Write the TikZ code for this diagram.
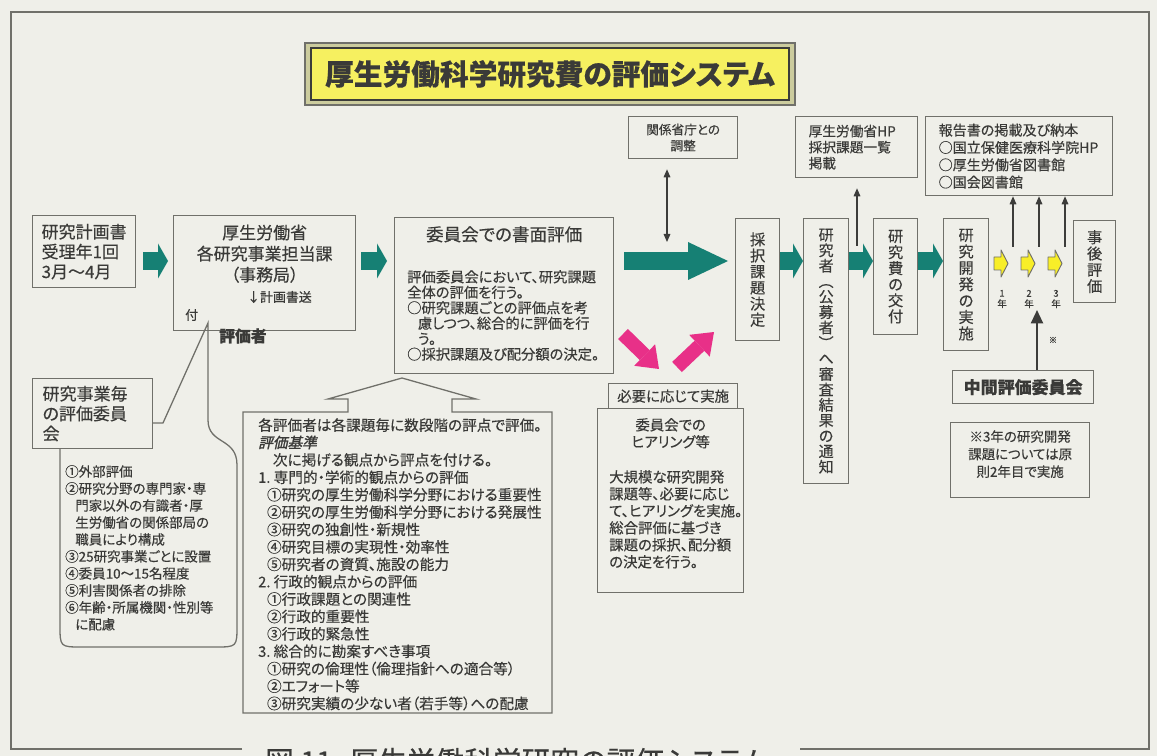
\documentclass[tikz,border=0pt]{standalone}
\usepackage{fontspec}
\setmainfont{Noto Sans CJK JP}[RawFeature=+palt, FakeBold=0.35]
\newfontface\kijunface{Noto Sans CJK JP}[RawFeature=+palt, FakeSlant=0.22, FakeBold=1.6]
\usetikzlibrary{positioning,arrows.meta}

\definecolor{bgc}{RGB}{239,239,233}
\definecolor{linec}{RGB}{112,112,106}
\definecolor{darkc}{RGB}{60,60,58}
\definecolor{txtc}{RGB}{58,58,56}
\definecolor{tealc}{RGB}{22,128,116}
\definecolor{pinkc}{RGB}{232,48,136}
\definecolor{yelc}{RGB}{248,238,40}
\definecolor{yelt}{RGB}{246,240,96}
\definecolor{titlefr}{RGB}{204,204,158}

\newcommand\fs[2]{\fontsize{#1pt}{#2pt}\selectfont}
\newcommand\ind{\hspace*{0.75em}}

\tikzset{
  box/.style={draw=linec, line width=1.1pt, inner sep=0pt, anchor=north west},
  vbox/.style={box, align=center, font=\fs{12.8}{13.2}},
  flow/.style={draw=tealc, line width=5.4mm, -{Triangle[length=3mm, width=10.5mm, line width=0pt]}},
  bigflow/.style={draw=tealc, line width=5.4mm, -{Triangle[length=12mm, width=11.4mm, line width=0pt]}},
  pinkflow/.style={draw=pinkc, line width=4.2mm, -{Triangle[length=6mm, width=9mm, line width=0pt]}},
  upline/.style={draw=darkc, line width=0.9pt, -{Triangle[length=2.4mm, width=2mm]}},
  twoway/.style={draw=darkc, line width=0.9pt, {Triangle[length=2.4mm, width=2mm]}-{Triangle[length=2.4mm, width=2mm]}},
  yelarrow/.style={draw=linec, fill=yelc, line width=0.8pt, line join=round},
  textblock/.style={inner sep=0pt, align=left, anchor=north west}
}

\begin{document}
\begin{tikzpicture}[x=0.3mm, y=-0.3mm, every node/.style={text=txtc}]

  \path[use as bounding box, fill=bgc] (0,0) rectangle (1157,756);
  \draw[linec, line width=1pt] (242,749) -- (11,749) -- (11,12) -- (1149,12) -- (1149,749) -- (800,749);

  % title
  \node (titleframe) [box, anchor=center, fill=titlefr, minimum width=147mm, minimum height=18.6mm] at (550,74) {};
  \node (title) [box, anchor=center, fill=yelt, draw=darkc, minimum width=143.4mm, minimum height=15.6mm,
    font=\fs{24.5}{28}\bfseries] at (550,74) {厚生労働科学研究費の評価システム};

  % application and ministry
  \node (rcpt) [box, minimum width=30.9mm, minimum height=21.6mm, text width=25.5mm, align=left,
    font=\fs{14.5}{17}] at (32,215) {研究計画書\\受理年1回\\3月～4月};

  \node (ministry) [box, minimum width=54.6mm, minimum height=34.5mm] at (173,215) {};
  \node (ministryt) [below=2.85mm of ministry.north, inner sep=0pt, align=center, font=\fs{14.5}{18}] {
    厚生労働省\\各研究事業担当課\\（事務局）
  };
  \node (sofu1) [anchor=west, inner sep=0pt, font=\fs{11}{13}] at (247,297) {↓計画書送};
  \node (sofu2) [anchor=west, inner sep=0pt, font=\fs{11}{13}] at (185,315) {付};
  \node (hyokasha) [anchor=west, inner sep=0pt, font=\fs{13.5}{16}\bfseries] at (219,336) {評価者};

  % committee per project
  \node (iinkai) [box, minimum width=36mm, minimum height=21mm, text width=30mm, align=left,
    font=\fs{14.5}{17}] at (32,378) {研究事業毎\\の評価委員\\会};
  \draw[linec, line width=1.1pt] (60,448) -- (60,625) .. controls (60,647) .. (82,647) -- (215,647)
    .. controls (237,647) .. (237,625) -- (237,465) .. controls (237,437) and (208,445) .. (208,420)
    -- (208,323) -- (163,423) -- (152,423);
  \node (iinkail) [textblock, font=\fs{11.5}{14.5}] at (65,465) {
    ①外部評価\\②研究分野の専門家・専\\\ind 門家以外の有識者・厚\\\ind 生労働省の関係部局の\\\ind 職員により構成\\
    ③25研究事業ごとに設置\\④委員10～15名程度\\⑤利害関係者の排除\\⑥年齢・所属機関・性別等\\\ind に配慮
  };

  % written review
  \node (shomen) [box, minimum width=65.7mm, minimum height=46.8mm] at (394,217) {};
  \node (shoment) [below=2.7mm of shomen.north, inner sep=0pt, font=\fs{15}{18}] {委員会での書面評価};
  \node (shomenb) [textblock, font=\fs{12.2}{13.2}] at (407,270) {
    評価委員会において、研究課題\\全体の評価を行う。\\○研究課題ごとの評価点を考\\\ind 慮しつつ、総合的に評価を行\\\ind う。\\
    ○採択課題及び配分額の決定。
  };

  % criteria
  \draw[linec, line width=1.1pt] (243,412) -- (348,412) -- (348,399) -- (328,399) -- (402,378) -- (476,399)
    -- (452,399) -- (452,412) -- (552,412) -- (552,713) -- (243,713) -- cycle;
  \node (kijun) [textblock, font=\fs{12.5}{14.85}] at (258,418) {
    各評価者は各課題毎に数段階の評点で評価。\\
    {\kijunface 評価基準}\\
    \hspace*{1em}次に掲げる観点から評点を付ける。\\
    1.\ 専門的・学術的観点からの評価\\
    \hspace*{0.6em}①研究の厚生労働科学分野における重要性\\
    \hspace*{0.6em}②研究の厚生労働科学分野における発展性\\
    \hspace*{0.6em}③研究の独創性・新規性\\
    \hspace*{0.6em}④研究目標の実現性・効率性\\
    \hspace*{0.6em}⑤研究者の資質、施設の能力\\
    2.\ 行政的観点からの評価\\
    \hspace*{0.6em}①行政課題との関連性\\
    \hspace*{0.6em}②行政的重要性\\
    \hspace*{0.6em}③行政的緊急性\\
    3.\ 総合的に勘案すべき事項\\
    \hspace*{0.6em}①研究の倫理性（倫理指針への適合等）\\
    \hspace*{0.6em}②エフォート等\\
    \hspace*{0.6em}③研究実績の少ない者（若手等）への配慮
  };

  % hearing
  \node (kankei) [box, minimum width=32.7mm, minimum height=12.6mm, align=center, font=\fs{10.8}{13.7}]
    at (628,116) {関係省庁との\\調整};
  \node (hitsuyo) [box, minimum width=38.7mm, minimum height=7.5mm, font=\fs{12.3}{14}] at (608,383) {必要に応じて実施};
  \node (hearing) [box, fill=bgc, minimum width=43.8mm, minimum height=55.2mm] at (597,408) {};
  \node (hearingt) [below=3mm of hearing.north, inner sep=0pt, align=center, font=\fs{12.3}{14.5}] {
    委員会での\\ヒアリング等
  };
  \node (hearingb) [textblock, font=\fs{12.3}{14.5}] at (609,470) {
    大規模な研究開発\\課題等、必要に応じ\\て、ヒアリングを実施。\\総合評価に基づき\\課題の採択、配分額\\の決定を行う。
  };

  % steps after selection
  \node (saitaku) [vbox, minimum width=13.2mm, minimum height=36.6mm, font=\fs{13}{13.7}] at (735,218) {採\\択\\課\\題\\決\\定};
  \node (tsuchi) [vbox, minimum width=13.5mm, minimum height=79.5mm] at (803,218) {
    研\\究\\者\\︵\\公\\募\\者\\︶\\へ\\審\\査\\結\\果\\の\\通\\知
  };
  \node (kofu) [vbox, minimum width=13.2mm, minimum height=34.8mm, font=\fs{13}{13.7}] at (873,218) {研\\究\\費\\の\\交\\付};
  \node (jisshi) [vbox, minimum width=13.5mm, minimum height=39.6mm, font=\fs{13}{14}] at (943,218) {研\\究\\開\\発\\の\\実\\施};
  \node (jigo) [vbox, minimum width=12.6mm, minimum height=24.6mm, font=\fs{13}{13.9}] at (1073,220) {事\\後\\評\\価};

  \node (hpbox) [box, minimum width=36.6mm, minimum height=18.3mm, text width=28.8mm, align=left,
    font=\fs{11.7}{13.7}] at (795,116) {厚生労働省HP\\採択課題一覧\\掲載};
  \node (report) [box, minimum width=56.1mm, minimum height=23.7mm, text width=48.3mm, align=left,
    font=\fs{12}{14.8}] at (925,116) {報告書の掲載及び納本\\○国立保健医療科学院HP\\○厚生労働省図書館\\○国会図書館};

  \node (chukan) [box, minimum width=42.3mm, minimum height=9.9mm, font=\fs{14.5}{17}\bfseries] at (952,370) {中間評価委員会};
  \node (chuki) [box, minimum width=41.7mm, minimum height=22.5mm] at (950,422) {};
  \node (chukit) [below=2.4mm of chuki.north, inner sep=0pt, align=center, font=\fs{11.5}{15}] {
    ※3年の研究開発\\課題については原\\則2年目で実施
  };

  % main flow
  \coordinate (flowy) at (0,261);
  \draw[flow, shorten <=2.1mm, shorten >=1.5mm] (rcpt.east |- flowy) -- (ministry.west |- flowy);
  \draw[flow, shorten <=1.5mm, shorten >=2.1mm] (ministry.east |- flowy) -- (shomen.west |- flowy);
  \draw[bigflow, shorten <=3mm, shorten >=2.1mm] (shomen.east |- flowy) -- (saitaku.west |- flowy);
  \draw[flow] (saitaku.east |- flowy) -- (tsuchi.west |- flowy);
  \draw[flow] (tsuchi.east |- flowy) -- (kofu.west |- flowy);
  \draw[flow] (kofu.east |- flowy) -- (jisshi.west |- flowy);

  \coordinate (pk1s) at (623,334);
  \coordinate (pk1e) at (659,369);
  \coordinate (pk2s) at (677,367);
  \coordinate (pk2e) at (714,332);
  \draw[pinkflow] (pk1s) -- (pk1e);
  \draw[pinkflow] (pk2s) -- (pk2e);

  \coordinate (adjtip) at (667,242);
  \draw[twoway, shorten <=3mm] (kankei.south -| adjtip) -- (adjtip);

  \coordinate (hpfoot) at (857,246);
  \draw[upline, shorten >=3mm] (hpfoot) -- (hpbox.south -| hpfoot);

  % yearly reports
  \foreach \n/\x in {1/1001,2/1028,3/1055} {
    \draw[yelarrow] (\x-7,257) -- (\x,257) -- (\x,250) -- (\x+7,263.5) -- (\x,277) -- (\x,270) -- (\x-7,270) -- cycle;
    \node (yr\n) [align=center, inner sep=0pt, font=\fs{8}{9}] at (\x+1,299) {\n\\年};
  }
  \foreach \n/\x in {1/1013,2/1039,3/1065} {
    \coordinate (rf\n) at (\x,247);
    \draw[upline] (rf\n) -- (report.south -| rf\n);
  }

  \coordinate (midtip) at (1037,310);
  \draw[draw=darkc, line width=1.8pt, -{Triangle[length=4mm, width=3.6mm]}] (chukan.north -| midtip) -- (midtip);
  \node (kome) [inner sep=0pt, font=\fs{7}{8}] at (1053,340) {※};

  \node (caption) [anchor=base west, inner sep=0pt, font=\fs{24.5}{28}] at (265,772) {図 11\hspace{0.6em}厚生労働科学研究の評価システム};

\end{tikzpicture}
\end{document}
